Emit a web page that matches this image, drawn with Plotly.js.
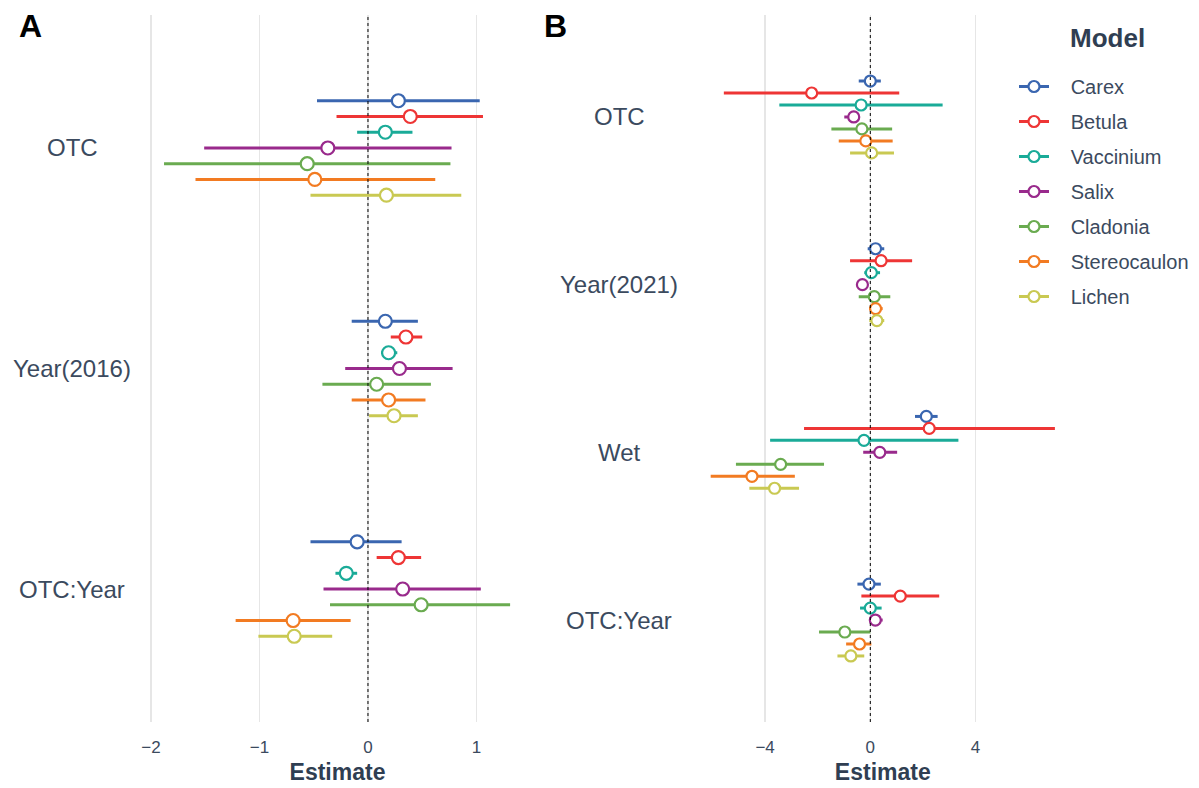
<!DOCTYPE html>
<html>
<head>
<meta charset="utf-8">
<script src="https://cdn.plot.ly/plotly-3.0.1.min.js"></script>
<style>html,body{margin:0;padding:0;background:#fff;}#chart{width:1199px;height:788px;}</style>
</head>
<body>
<div id="chart"></div>
<script>
// ---- data ----
const categoriesA = ['OTC', 'Year(2016)', 'OTC:Year'];
const categoriesB = ['OTC', 'Year(2021)', 'Wet', 'OTC:Year'];
const models = ['Carex', 'Betula', 'Vaccinium', 'Salix', 'Cladonia', 'Stereocaulon', 'Lichen'];
const colors = ['#3a66b0', '#ee3535', '#1aab98', '#992a8c', '#6aab50', '#f27b22', '#c9c952'];

// Panel A: rows = models, columns = categoriesA
const estA = [
  [0.28, 0.16, -0.10],
  [0.39, 0.35, 0.28],
  [0.16, 0.19, -0.20],
  [-0.37, 0.29, 0.32],
  [-0.56, 0.08, 0.49],
  [-0.49, 0.19, -0.69],
  [0.17, 0.24, -0.68]
];
const loA = [
  [-0.47, -0.15, -0.53],
  [-0.29, 0.21, 0.08],
  [-0.10, 0.12, -0.30],
  [-1.51, -0.21, -0.41],
  [-1.88, -0.42, -0.35],
  [-1.59, -0.15, -1.22],
  [-0.53, 0.01, -1.01]
];
const hiA = [
  [1.03, 0.46, 0.31],
  [1.06, 0.50, 0.49],
  [0.41, 0.27, -0.10],
  [0.77, 0.78, 1.04],
  [0.76, 0.58, 1.31],
  [0.62, 0.53, -0.16],
  [0.86, 0.46, -0.33]
];

// Panel B: rows = models, columns = categoriesB
const estB = [
  [0.00, 0.20, 2.13, -0.05],
  [-2.23, 0.41, 2.24, 1.14],
  [-0.35, 0.04, -0.24, 0.00],
  [-0.63, -0.30, 0.36, 0.19],
  [-0.32, 0.15, -3.41, -0.97],
  [-0.17, 0.20, -4.50, -0.41],
  [0.05, 0.25, -3.64, -0.74]
];
const loB = [
  [-0.44, -0.10, 1.70, -0.49],
  [-5.57, -0.77, -2.52, -0.34],
  [-3.46, -0.23, -3.81, -0.39],
  [-0.99, -0.52, -0.27, -0.05],
  [-1.48, -0.44, -5.11, -1.95],
  [-1.20, -0.04, -6.07, -0.92],
  [-0.77, -0.04, -4.60, -1.25]
];
const hiB = [
  [0.40, 0.53, 2.56, 0.40],
  [1.10, 1.59, 7.02, 2.62],
  [2.75, 0.37, 3.35, 0.43],
  [-0.54, -0.10, 1.02, 0.47],
  [0.83, 0.76, -1.76, 0.00],
  [0.85, 0.47, -2.87, 0.04],
  [0.90, 0.53, -2.71, -0.23]
];

// ---- build ----
const dodge = 0.0714;
const textColor = '#3b4a5e';
const titleColor = '#2f3e52';
const FONT = 'Arial, "Liberation Sans", sans-serif';
const traces = [];

function panelTraces(cats, est, lo, hi, xa, ya, msize) {
  models.forEach((m, j) => {
    const ys = cats.map((c, i) => i + (j - 3) * dodge);
    traces.push({
      type: 'scatter', mode: 'markers',
      x: est[j], y: ys, xaxis: xa, yaxis: ya,
      name: m, legendgroup: m, showlegend: false,
      marker: {symbol: 'circle', size: msize, color: '#ffffff', line: {color: colors[j], width: 2.2}},
      error_x: {
        type: 'data', symmetric: false,
        array: est[j].map((v, i) => hi[j][i] - v),
        arrayminus: est[j].map((v, i) => v - lo[j][i]),
        color: colors[j], thickness: 3, width: 0
      },
      hovertemplate: m + ': %{x}<extra></extra>'
    });
  });
}
panelTraces(categoriesA, estA, loA, hiA, 'x', 'y', 13);
panelTraces(categoriesB, estB, loB, hiB, 'x2', 'y2', 11);

// legend entries
models.forEach((m, j) => {
  traces.push({
    type: 'scatter', mode: 'lines+markers',
    x: [null], y: [null], xaxis: 'x2', yaxis: 'y2',
    name: '\u00a0\u00a0\u00a0' + m, legendgroup: m, showlegend: true,
    line: {color: colors[j], width: 3},
    marker: {symbol: 'circle', size: 11, color: '#ffffff', line: {color: colors[j], width: 2.2}}
  });
});

const yDom = [1 - 722 / 788, 1 - 15 / 788];
const xDomA = [147 / 1199, 528 / 1199];
const xDomB = [693.6 / 1199, 1072 / 1199];

const xBase = {
  showgrid: true, gridcolor: '#e6e6e6', gridwidth: 1.5,
  zeroline: false, showline: false,
  ticks: 'outside', ticklen: 10, tickcolor: 'rgba(0,0,0,0)',
  tickfont: {family: FONT, size: 17, color: textColor},
  title: {text: '<b>Estimate</b>', font: {family: FONT, size: 23, color: titleColor}, standoff: 7}
};
const yBase = {
  showgrid: false, zeroline: false, showline: false, showticklabels: false, ticks: ''
};

const annotations = [];
categoriesA.forEach((c, i) => annotations.push({
  xref: 'paper', yref: 'y', x: 72 / 1199, y: i, text: c, showarrow: false,
  xanchor: 'center', yanchor: 'middle', font: {family: FONT, size: 24, color: textColor}
}));
categoriesB.forEach((c, i) => annotations.push({
  xref: 'paper', yref: 'y2', x: 619 / 1199, y: i, text: c, showarrow: false,
  xanchor: 'center', yanchor: 'middle', font: {family: FONT, size: 24, color: textColor}
}));
annotations.push({xref: 'paper', yref: 'paper', x: 17 / 1199, y: 1 - 6 / 788, text: '<b>A</b>', showarrow: false,
  xanchor: 'left', yanchor: 'top', font: {family: FONT, size: 32, color: '#000000'}});
annotations.push({xref: 'paper', yref: 'paper', x: 542 / 1199, y: 1 - 6 / 788, text: '<b>B</b>', showarrow: false,
  xanchor: 'left', yanchor: 'top', font: {family: FONT, size: 32, color: '#000000'}});
annotations.push({xref: 'paper', yref: 'paper', x: 1107 / 1199, y: 1 - 38 / 788, text: '<b>Model</b>', showarrow: false,
  xanchor: 'center', yanchor: 'middle', font: {family: FONT, size: 26, color: titleColor}});

const layout = {
  width: 1199, height: 788,
  margin: {l: 0, r: 0, t: 0, b: 0},
  paper_bgcolor: '#ffffff', plot_bgcolor: 'rgba(0,0,0,0)',
  font: {family: FONT, color: textColor},
  showlegend: true,
  xaxis: Object.assign({}, xBase, {domain: xDomA, range: [-2.037, 1.475], tickvals: [-2, -1, 0, 1], anchor: 'y'}),
  yaxis: Object.assign({}, yBase, {domain: yDom, range: [2.603, -0.603], anchor: 'x'}),
  xaxis2: Object.assign({}, xBase, {domain: xDomB, range: [-6.72, 7.67], tickvals: [-4, 0, 4], anchor: 'y2'}),
  yaxis2: Object.assign({}, yBase, {domain: yDom, range: [3.608, -0.608], anchor: 'x2'}),
  shapes: [
    {type: 'line', xref: 'x', yref: 'paper', x0: 0, x1: 0, y0: yDom[0], y1: yDom[1], line: {color: '#000', width: 1, dash: '3px,3px'}},
    {type: 'line', xref: 'x2', yref: 'paper', x0: 0, x1: 0, y0: yDom[0], y1: yDom[1], line: {color: '#000', width: 1, dash: '3px,3px'}}
  ],
  annotations: annotations,
  legend: {
    x: 1014 / 1199, xanchor: 'left', y: 1 - 67 / 788, yanchor: 'top',
    bgcolor: 'rgba(0,0,0,0)', tracegroupgap: 6,
    font: {family: FONT, size: 20, color: textColor}
  }
};

Plotly.newPlot('chart', traces, layout, {displayModeBar: false, staticPlot: true});
</script>
</body>
</html>
